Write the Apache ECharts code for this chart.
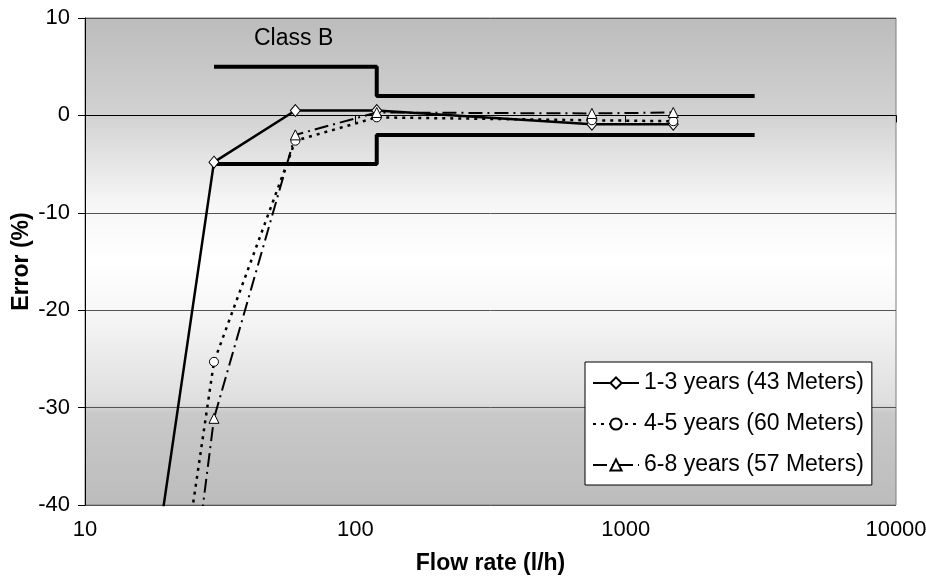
<!DOCTYPE html>
<html>
<head>
<meta charset="utf-8">
<script src="https://cdn.jsdelivr.net/npm/echarts@6/dist/echarts.min.js"></script>
<style>html,body{margin:0;padding:0;background:#fff}#c{width:926px;height:581px}</style>
</head>
<body>
<div id="c"></div>
<script>
// Data
const flowRates = [15, 30, 60, 120, 750, 1500];
const years13 = [-61.8, -4.8, 0.5, 0.5, -0.9, -0.9];
const years45 = [-82, -25.3, -2.6, -0.2, -0.5, -0.6];
const years68 = [-97, -31.1, -2.0, 0.3, 0.2, 0.3];
const limitFlows = [30, 120, 120, 3000];
const upperLimit = [5, 5, 2, 2];
const lowerLimit = [-5, -5, -2, -2];
const seriesNames = ['1-3 years (43 Meters)', '4-5 years (60 Meters)', '6-8 years (57 Meters)'];
const yTicks = { min: -40, max: 10, interval: 10 };
const xRange = { min: 10, max: 10000 };

const zip = (xs, ys) => xs.map((x, i) => [x, ys[i]]);
const FONT = 'Liberation Sans, Arial, sans-serif';

const chart = echarts.init(document.getElementById('c'), null, { renderer: 'canvas' });

const markerStyle = { color: '#ffffff', borderColor: '#000000', borderWidth: 1 };

chart.setOption({
  animation: false,
  backgroundColor: '#ffffff',
  title: {
    text: 'Class B',
    left: 254, top: 27,
    padding: 0,
    textStyle: { fontFamily: FONT, fontSize: 23, fontWeight: 'normal', color: '#000' }
  },
  grid: {
    left: 85, right: 30, top: 18, bottom: 76,
    containLabel: false,
    outerBoundsMode: 'none',
    show: true,
    borderColor: '#7f7f7f', borderWidth: 1,
    backgroundColor: {
      type: 'linear', x: 0, y: 0, x2: 0, y2: 1,
      colorStops: [
        { offset: 0, color: '#bcbcbc' },
        { offset: 0.2, color: '#d2d2d2' },
        { offset: 0.38, color: '#f6f6f6' },
        { offset: 0.5, color: '#ffffff' },
        { offset: 0.6, color: '#f7f7f7' },
        { offset: 0.79, color: '#dedede' },
        { offset: 0.81, color: '#c9c9c9' },
        { offset: 1, color: '#bcbcbc' }
      ]
    }
  },
  legend: {
    data: seriesNames,
    orient: 'vertical',
    left: 585, top: 362,
    backgroundColor: '#ffffff',
    borderColor: '#000000', borderWidth: 1,
    borderRadius: 0,
    padding: [9, 8, 8, 7],
    itemWidth: 46, itemHeight: 14, itemGap: 17,
    textStyle: { fontFamily: FONT, fontSize: 23, color: '#000', lineHeight: 24 }
  },
  xAxis: {
    type: 'log', logBase: 10, min: xRange.min, max: xRange.max,
    name: 'Flow rate (l/h)', nameLocation: 'middle', nameGap: 47,
    nameMoveOverlap: false,
    nameTextStyle: { fontFamily: FONT, fontSize: 23, fontWeight: 'bold', color: '#000' },
    axisLine: { show: true, lineStyle: { color: '#000', width: 1 } },
    axisTick: { show: true, inside: false, length: 7, lineStyle: { color: '#000' } },
    minorTick: { show: false },
    axisLabel: { fontFamily: FONT, fontSize: 22, color: '#000', margin: 14, formatter: v => String(v) },
    splitLine: { show: false },
    minorSplitLine: { show: false }
  },
  yAxis: {
    type: 'value', min: yTicks.min, max: yTicks.max, interval: yTicks.interval,
    name: 'Error (%)', nameLocation: 'middle', nameGap: 52,
    nameMoveOverlap: false,
    nameTextStyle: { fontFamily: FONT, fontSize: 23, fontWeight: 'bold', color: '#000' },
    axisLine: { show: true, lineStyle: { color: '#000', width: 1 } },
    axisTick: { show: true, inside: false, length: 7, lineStyle: { color: '#000' } },
    axisLabel: { fontFamily: FONT, fontSize: 22, color: '#000', margin: 15 },
    splitLine: { show: true, lineStyle: { color: '#555555', width: 1 } }
  },
  series: [
    {
      name: 'upper', type: 'line', data: zip(limitFlows, upperLimit),
      symbol: 'none', silent: true, z: 2,
      lineStyle: { color: '#000', width: 4 }
    },
    {
      name: 'lower', type: 'line', data: zip(limitFlows, lowerLimit),
      symbol: 'none', silent: true, z: 2,
      lineStyle: { color: '#000', width: 4 }
    },
    {
      name: seriesNames[0], type: 'line', data: zip(flowRates, years13),
      symbol: 'diamond', symbolSize: [10, 12], clip: true, z: 3,
      lineStyle: { color: '#000', width: 2.5, type: 'solid' },
      itemStyle: markerStyle
    },
    {
      name: seriesNames[1], type: 'line', data: zip(flowRates, years45),
      symbol: 'circle', symbolSize: 9, clip: true, z: 3,
      lineStyle: { color: '#000', width: 2.5, type: [3, 5] },
      itemStyle: markerStyle
    },
    {
      name: seriesNames[2], type: 'line', data: zip(flowRates, years68),
      symbol: 'triangle', symbolSize: [10, 10], clip: true, z: 3,
      lineStyle: { color: '#000', width: 2, type: [14, 5, 2, 5] },
      itemStyle: markerStyle
    }
  ]
});
</script>
</body>
</html>
